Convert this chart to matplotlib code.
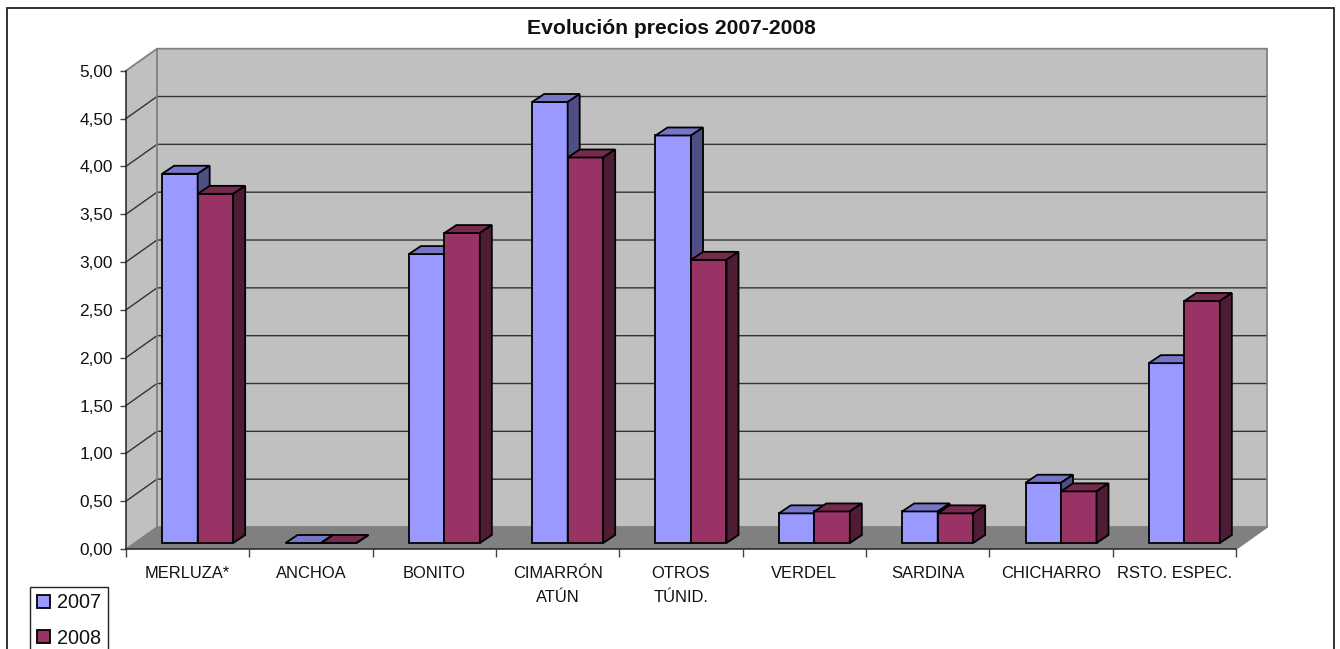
import matplotlib
matplotlib.use("Agg")
import matplotlib.pyplot as plt
from matplotlib.patches import Polygon, Rectangle

plt.rcParams['font.family'] = ['Liberation Sans', 'DejaVu Sans']

categories = ["MERLUZA*", "ANCHOA", "BONITO", "CIMARRÓN\nATÚN", "OTROS\nTÚNID.",
              "VERDEL", "SARDINA", "CHICHARRO", "RSTO. ESPEC."]
values_2007 = [3.86, 0.0, 3.02, 4.61, 4.26, 0.31, 0.33, 0.63, 1.88]
values_2008 = [3.65, 0.0, 3.24, 4.03, 2.96, 0.33, 0.31, 0.54, 2.53]
y_ticks = [0, 0.5, 1, 1.5, 2, 2.5, 3, 3.5, 4, 4.5, 5]
series_names = ["2007", "2008"]

W, H = 1340, 649
fig = plt.figure(figsize=(W / 100, H / 100), dpi=100, facecolor="white")
L, R, T, B = 126, 1236, 70.7, 549
ax = fig.add_axes([L / W, 1 - B / H, (R - L) / W, (B - T) / H])
n = len(categories)
ax.set_xlim(0, n)
ax.set_ylim(0, 5)
ax.patch.set_visible(False)
ux = (R - L) / n
uy = (B - T) / 5

# outer chart frame
fig.add_artist(Rectangle((7 / W, -0.02), (1333.5 - 7) / W, 1.02 - 8 / H, transform=fig.transFigure,
                         fill=False, edgecolor="#222222", linewidth=1.3))

dx, dy = 31 / ux, 22 / uy          # wall depth
bdx, bdy = 12 / ux, 8 / uy         # bar depth
shift, base = 10 / ux, 6 / uy      # bar placement on the floor
bw = 35.5 / ux

GRID = "#333333"
EDGE = "#808080"
def poly(pts, **kw):
    p = Polygon(pts, closed=True, clip_on=False, **kw)
    ax.add_patch(p)

poly([(0, 0), (dx, dy), (n + dx, dy), (n + dx, 5 + dy), (dx, 5 + dy), (0, 5)], facecolor="#C0C0C0", edgecolor="none", zorder=1)
poly([(0, 0), (n, 0), (n + dx, dy), (dx, dy)], facecolor="#808080", edgecolor="none", zorder=1.1)
for v in y_ticks[1:-1]:
    ax.plot([0, dx, n + dx], [v, v + dy, v + dy], color=GRID, lw=1.0, clip_on=False, zorder=1.2)
ax.plot([0, dx, n + dx, n + dx, n], [5, 5 + dy, 5 + dy, dy, 0], color=EDGE, lw=1.3, clip_on=False, zorder=1.3)
ax.plot([dx, dx, n + dx], [5 + dy, dy, dy], color=EDGE, lw=1.3, clip_on=False, zorder=1.3)
ax.plot([0, dx], [0, dy], color=EDGE, lw=1.0, clip_on=False, zorder=1.3)

styles = [("#9999FF", "#7676C8", "#4F4F85"), ("#993366", "#752A4E", "#4F1C36")]
handles = []
for j, (vals, st) in enumerate(zip([values_2007, values_2008], styles)):
    x0s = [i + 0.5 + shift - bw + j * bw for i in range(n)]
    z = 3 + j
    bars = ax.bar(x0s, vals, width=bw, bottom=base, align="edge", color=st[0],
                  edgecolor="black", linewidth=1.3, zorder=z, clip_on=False)
    handles.append(bars[0])
    for x0, v in zip(x0s, vals):
        top = base + v
        poly([(x0, top), (x0 + bw, top), (x0 + bw + bdx, top + bdy), (x0 + bdx, top + bdy)],
             facecolor=st[1], edgecolor="black", linewidth=1.3, zorder=z)
        poly([(x0 + bw, base), (x0 + bw + bdx, base + bdy), (x0 + bw + bdx, top + bdy), (x0 + bw, top)],
             facecolor=st[2], edgecolor="black", linewidth=1.3, zorder=z)

for s in ("top", "right"):
    ax.spines[s].set_visible(False)
for s in ("left", "bottom"):
    ax.spines[s].set_color("#222222")
    ax.spines[s].set_linewidth(1.1)
    ax.spines[s].set_zorder(2)

ax.set_yticks(y_ticks)
ax.set_yticklabels([f"{v:.2f}".replace(".", ",") for v in y_ticks], fontsize=12.4, color="#111111")
ax.tick_params(axis="y", length=6.5 / 1.39, width=1.0, color="#444444", pad=4.8)
ax.set_xticks(range(n + 1))
ax.set_xticklabels([])
ax.tick_params(axis="x", which="major", length=8 / 1.39, width=1.0, color="#444444")
ax.set_xticks([i + 0.5 for i in range(n)], minor=True)
ax.set_xticklabels(categories, minor=True, fontsize=11.9, color="#111111", linespacing=1.72)
ax.tick_params(axis="x", which="minor", length=0, pad=12.5)

fig.text(671 / W, 1 - 28 / H, "Evolución precios 2007-2008", ha="center", va="center",
         fontsize=15.2, fontweight="bold", color="#111111")

leg = ax.legend(handles, series_names, loc="upper left",
                bbox_to_anchor=(30 / W, 1 - 586.5 / H), bbox_transform=fig.transFigure,
                fontsize=14.3, frameon=True, fancybox=False, framealpha=1, edgecolor="#222222",
                handlelength=0.66, handleheight=0.66, handletextpad=0.36, labelspacing=0.82,
                borderpad=0.34, borderaxespad=0, labelcolor="#111111")
leg.get_frame().set_linewidth(1.0)
leg.set_zorder(10)

fig.savefig("out.png", dpi=100)
